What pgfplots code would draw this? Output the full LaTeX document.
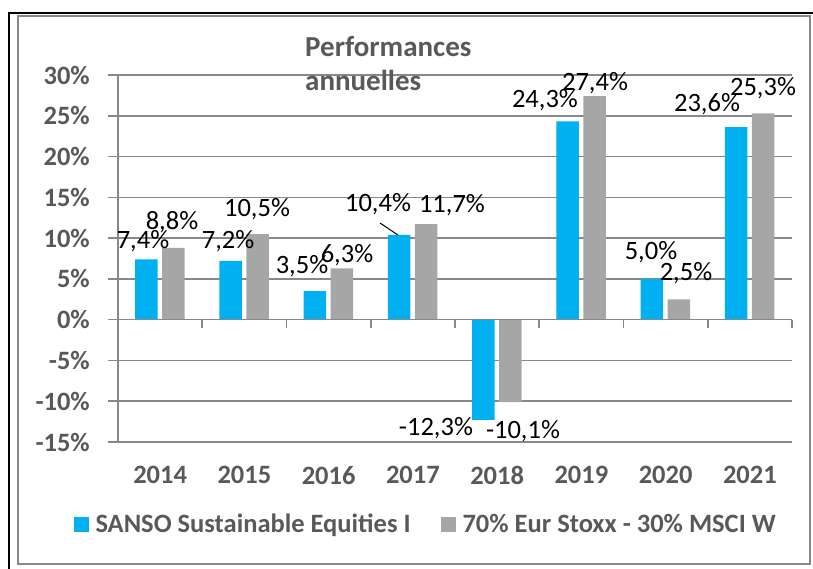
\documentclass[border=0pt]{standalone}
\usepackage{fontspec}
\setmainfont{Carlito}
\usepackage{pgfplots}
\pgfplotsset{compat=1.18}
\definecolor{sblue}{HTML}{00B0F0}
\definecolor{sgray}{HTML}{A6A6A6}
\definecolor{gridc}{HTML}{888888}
\definecolor{txt}{HTML}{595959}
\begin{document}
\fontsize{26.5}{31}\selectfont
\begin{tikzpicture}[x=1pt,y=1pt]
\useasboundingbox (-118,-127) rectangle (695,442);
\draw[gridc, line width=1.2pt] (-100,-122) rectangle (692,426);
\draw[black, line width=2pt] (-109,-127) -- (-109,429) -- (695,429);
\begin{axis}[
  at={(0pt,0pt)}, anchor=south west,
  width=674pt, height=367pt, scale only axis,
  xmin=-0.5, xmax=7.5, ymin=-15, ymax=30,
  xtick={0,...,7}, xticklabels={2014,2015,2016,2017,2018,2019,2020,2021},
  ytick={-15,-10,-5,0,5,10,15,20,25,30},
  yticklabels={-15\%,-10\%,-5\%,0\%,5\%,10\%,15\%,20\%,25\%,30\%},
  separate axis lines,
  axis x line*=bottom, axis y line*=left,
  axis line style={gridc, line width=1.6pt},
  ymajorgrids, grid style={gridc, line width=1.6pt},
  tick align=outside, major tick length=10pt,
  tick style={gridc, line width=1.6pt},
  xtick style={draw=none},
  ticklabel style={font=\bfseries, text=txt},
  yticklabel style={inner sep=0pt, xshift=-18pt},
  xticklabel style={inner sep=0pt, yshift=-14pt},
  clip=false,
  legend style={at={(axis description cs:0.455,-0.226)}, anchor=center, draw=none, fill=none,
    font=\bfseries, text=txt, legend columns=2, nodes={inner sep=0pt},
    /tikz/every odd column/.append style={column sep=7pt},
    /tikz/every even column/.append style={column sep=30pt}},
  legend cell align=left,
  legend image code/.code={\fill[#1] (0pt,-7.5pt) rectangle (15pt,7.5pt);},
]
\addplot[ybar, bar width=0.267, bar shift=-0.163, fill=sblue, draw=none]
  coordinates {(0,7.4) (1,7.2) (2,3.5) (3,10.4) (4,-12.3) (5,24.3) (6,5.0) (7,23.6)};
\addlegendentry{SANSO Sustainable Equities I}
\addplot[ybar, bar width=0.267, bar shift=0.157, fill=sgray, draw=none]
  coordinates {(0,8.8) (1,10.5) (2,6.3) (3,11.7) (4,-10.1) (5,27.4) (6,2.5) (7,25.3)};
\addlegendentry{70\% Eur Stoxx - 30\% MSCI W}
\draw[gridc, line width=1.6pt] (axis cs:-0.5,0) -- (axis cs:7.5,0);
\pgfplotsinvokeforeach{0.5,1.5,2.5,3.5,4.5,5.5,6.5,7.5}{
  \draw[gridc, line width=1.6pt] (axis cs:#1,0) -- ++(0pt,-8pt);
}
\begin{scope}[every node/.style={inner sep=0pt, anchor=center}]
\node at (axis cs:-0.203,9.64) {7,4\%};
\node at (axis cs:0.141,11.97) {8,8\%};
\node at (axis cs:0.806,9.64) {7,2\%};
\node at (axis cs:1.150,13.57) {10,5\%};
\node at (axis cs:1.684,6.58) {3,5\%};
\node at (axis cs:2.218,7.93) {6,3\%};
\node at (axis cs:2.586,14.18) {10,4\%};
\node at (axis cs:3.464,14.06) {11,7\%};
\node at (axis cs:3.274,-13.28) {-12,3\%};
\node at (axis cs:4.307,-13.65) {-10,1\%};
\node at (axis cs:4.568,26.93) {24,3\%};
\node at (axis cs:5.162,29.02) {27,4\%};
\node at (axis cs:5.826,8.30) {5,0\%};
\node at (axis cs:6.242,5.72) {2,5\%};
\node at (axis cs:6.491,26.44) {23,6\%};
\node at (axis cs:7.156,28.40) {25,3\%};
\end{scope}
\draw[black, line width=1pt] (axis cs:2.610,11.85) -- (axis cs:2.823,10.38);
\end{axis}
\node[anchor=base west, inner sep=0pt, text=txt, font=\fontsize{29}{34}\selectfont\bfseries] at (187,385) {Performances};
\node[anchor=base west, inner sep=0pt, text=txt, font=\fontsize{29}{34}\selectfont\bfseries] at (187,351) {annuelles};
\end{tikzpicture}
\end{document}
